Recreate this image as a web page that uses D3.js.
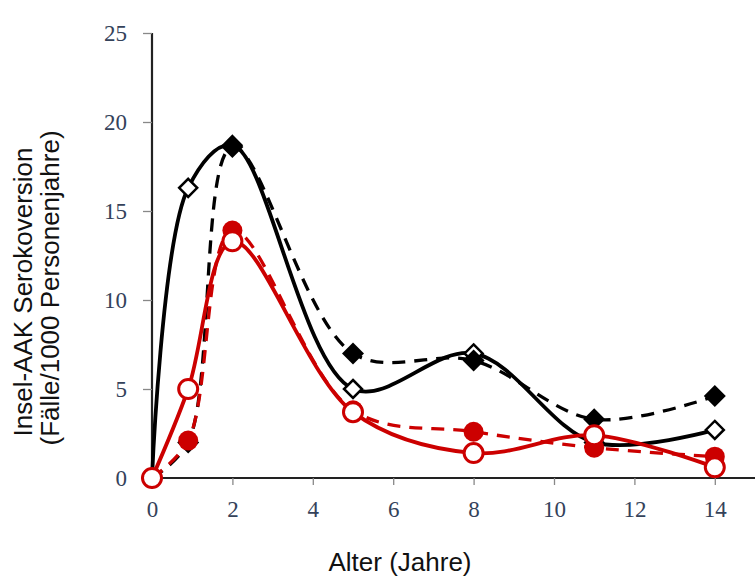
<!DOCTYPE html>
<html>
<head>
<meta charset="utf-8">
<script src="https://cdn.jsdelivr.net/npm/d3@7"></script>
<style>
  body { margin: 0; background: #fff; }
  svg { display: block; }
</style>
</head>
<body>
<div id="chart"></div>
<script>
// Alter in Jahren
const ages = [0, 0.9, 2, 5, 8, 11, 14];
// Serokonversion je Gruppe (Fälle/1000 Personenjahre)
const blackSolid = [0, 16.3, 18.7, 5.0, 7.0, 2.0, 2.7];
const blackDashed = [0, 2.0, 18.6, 7.0, 6.6, 3.3, 4.6];
const redSolid = [0, 5.0, 13.3, 3.7, 1.4, 2.4, 0.6];
const redDashed = [0, 2.1, 13.9, 3.8, 2.6, 1.7, 1.2];

const xTicks = [0, 2, 4, 6, 8, 10, 12, 14];
const yTicks = [0, 5, 10, 15, 20, 25];

const W = 755, H = 577;
const svg = d3.select("#chart").append("svg")
  .attr("width", W).attr("height", H);

const x = d3.scaleLinear().domain([0, 15]).range([152, 755]);
const y = d3.scaleLinear().domain([0, 25]).range([478, 33]);

const labelColor = "#34425a";
const serif = "'Liberation Serif', 'DejaVu Serif', serif";
const sans = "'Liberation Sans', Arial, sans-serif";

// y axis
const yAxis = svg.append("g")
  .attr("transform", `translate(${x(0)},0)`)
  .call(d3.axisLeft(y).tickValues(yTicks).tickSize(9).tickPadding(16));
yAxis.select(".domain").attr("stroke", "#222").attr("stroke-width", 2.2)
  .attr("d", `M0,${y(25)}V${y(0)}`);
yAxis.selectAll(".tick line").attr("stroke", "#888").attr("stroke-width", 1.3);
yAxis.selectAll(".tick text")
  .attr("fill", labelColor)
  .style("font-family", serif)
  .style("font-size", "23px");

// x axis
const xAxis = svg.append("g")
  .attr("transform", `translate(0,${y(0)})`)
  .call(d3.axisBottom(x).tickValues(xTicks).tickSize(7).tickPadding(16));
xAxis.select(".domain").attr("stroke", "#222").attr("stroke-width", 2.2)
  .attr("d", `M${x(0)},0H${W}`);
xAxis.selectAll(".tick line").attr("stroke", "#888").attr("stroke-width", 1.3);
xAxis.selectAll(".tick text")
  .attr("fill", labelColor)
  .style("font-family", serif)
  .style("font-size", "23px");

// titles
svg.append("text")
  .attr("x", 400).attr("y", 571)
  .attr("text-anchor", "middle")
  .style("font-family", sans)
  .style("font-size", "26px")
  .attr("fill", "#111")
  .text("Alter (Jahre)");

const yTitle = svg.append("text")
  .attr("transform", "translate(0,288) rotate(-90)")
  .attr("text-anchor", "middle")
  .style("font-family", sans)
  .style("font-size", "26px")
  .attr("fill", "#111");
yTitle.append("tspan").attr("x", -4).attr("y", 32).text("Insel-AAK Serokoversion");
yTitle.append("tspan").attr("x", 0).attr("y", 59).text("(Fälle/1000 Personenjahre)");

const line = d3.line()
  .x(d => x(d[0]))
  .y(d => y(d[1]))
  .curve(d3.curveCatmullRom.alpha(0.5));

function pts(vals) {
  return ages.map((a, i) => [a, vals[i]]);
}

const plot = svg.append("g");

plot.append("path").datum(pts(blackSolid))
  .attr("d", line).attr("fill", "none")
  .attr("stroke", "#000").attr("stroke-width", 3.8);

plot.append("path").datum(pts(blackDashed))
  .attr("d", line).attr("fill", "none")
  .attr("stroke", "#000").attr("stroke-width", 3.3)
  .attr("stroke-dasharray", "13,9");

plot.append("path").datum(pts(redSolid))
  .attr("d", line).attr("fill", "none")
  .attr("stroke", "#cc0000").attr("stroke-width", 3.8);

plot.append("path").datum(pts(redDashed))
  .attr("d", line).attr("fill", "none")
  .attr("stroke", "#cc0000").attr("stroke-width", 3.3)
  .attr("stroke-dasharray", "13,9");

const diamond = s => `M0,${-s}L${s},0L0,${s}L${-s},0Z`;

// open diamonds
plot.append("g").selectAll("path")
  .data(pts(blackSolid)).join("path")
  .attr("transform", d => `translate(${x(d[0])},${y(d[1])})`)
  .attr("d", diamond(9))
  .attr("fill", "#fff").attr("stroke", "#000").attr("stroke-width", 2.5);

// filled diamonds
plot.append("g").selectAll("path")
  .data(pts(blackDashed)).join("path")
  .attr("transform", d => `translate(${x(d[0])},${y(d[1])})`)
  .attr("d", diamond(11))
  .attr("fill", "#000");

// filled red circles
plot.append("g").selectAll("circle")
  .data(pts(redDashed)).join("circle")
  .attr("cx", d => x(d[0])).attr("cy", d => y(d[1]))
  .attr("r", 10)
  .attr("fill", "#cc0000");

// open red circles
plot.append("g").selectAll("circle")
  .data(pts(redSolid)).join("circle")
  .attr("cx", d => x(d[0])).attr("cy", d => y(d[1]))
  .attr("r", 9.5)
  .attr("fill", "#fff").attr("stroke", "#cc0000").attr("stroke-width", 3);
</script>
</body>
</html>
